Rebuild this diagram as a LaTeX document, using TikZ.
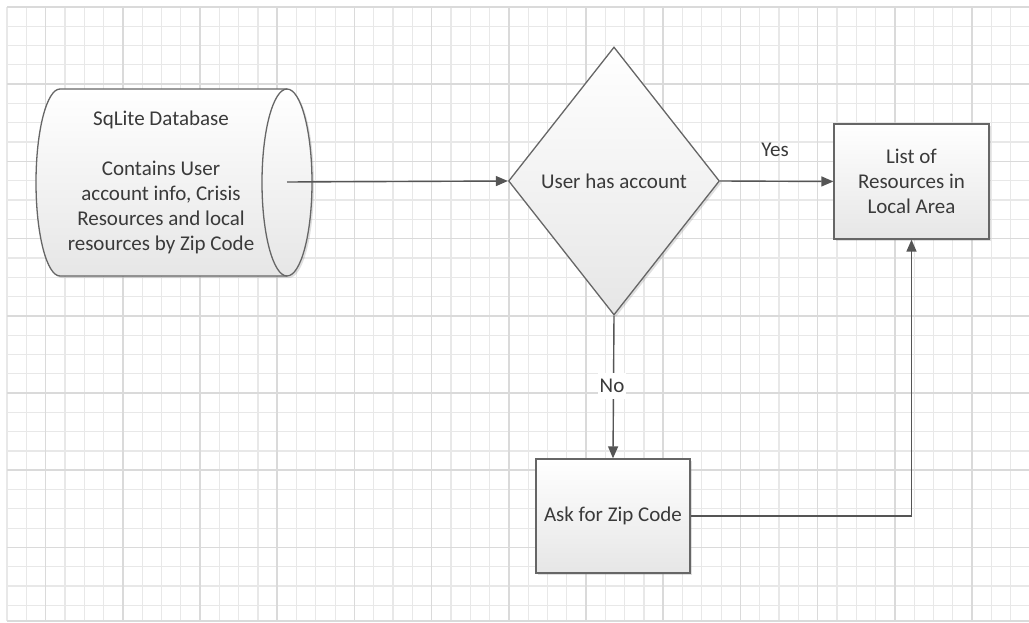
\documentclass[tikz,border=0pt]{standalone}
\usepackage{fontspec}
\setmainfont{Carlito}
\usetikzlibrary{arrows.meta,shapes.geometric,shadows}
\definecolor{gridlight}{HTML}{E8E8E8}
\definecolor{griddark}{HTML}{DADADA}
\definecolor{edge}{HTML}{666666}
\definecolor{conn}{HTML}{555555}
\definecolor{txt}{HTML}{3A3A3A}
\definecolor{fillbot}{HTML}{E6E6E6}
\tikzset{
  shapefill/.style={draw=edge, line width=1.3pt, top color=white, bottom color=fillbot,
    drop shadow={shadow xshift=2pt, shadow yshift=-2pt, opacity=0.25, fill=gray}},
  procbox/.style={shapefill, rectangle, inner sep=0pt, align=center, text=txt},
  decision/.style={shapefill, diamond, inner sep=0pt, text=txt},
  conn/.style={draw=conn, line width=1.4pt, -{Triangle[length=12pt,width=10pt]}},
  lbl/.style={text=txt, inner sep=0pt},
  gridthin/.style={gridlight, line width=1.2pt},
  gridthick/.style={griddark, line width=1.6pt},
}
\begin{document}
\begin{tikzpicture}[x=1pt,y=1pt,font=\fontsize{21pt}{25pt}\selectfont]
\useasboundingbox (0,0) rectangle (1029,-623);
\fill[white] (0,0) rectangle (1029,-623);
% grid
\foreach \i in {0,...,52} {
  \pgfmathsetmacro{\gx}{7+\i*19.3}
  \draw[gridthin] (\gx,-7) -- (\gx,-621);
}
\foreach \j in {0,...,31} {
  \pgfmathsetmacro{\gy}{-7-\j*19.3}
  \draw[gridthin] (7,\gy) -- (1029,\gy);
}
\foreach \i in {2,6,...,50} {
  \pgfmathsetmacro{\gx}{7+\i*19.3}
  \draw[gridthick] (\gx,-7) -- (\gx,-621);
}
\foreach \j in {0,4,...,28} {
  \pgfmathsetmacro{\gy}{-7-\j*19.3}
  \draw[gridthick] (7,\gy) -- (1029,\gy);
}
\draw[gridthick] (7,-621) -- (1029,-621);
% database cylinder
\path[shapefill] (60,-89) -- (287,-89)
  arc[start angle=90, end angle=-90, x radius=25pt, y radius=93.5pt]
  -- (60,-276)
  arc[start angle=270, end angle=90, x radius=24pt, y radius=93.5pt] -- cycle;
\draw[edge, line width=1.3pt] (287,-89)
  arc[start angle=90, end angle=270, x radius=25pt, y radius=93.5pt];
\node[lbl, align=center] (db) at (161,-182)
  {SqLite Database\\[25pt]Contains User\\account info, Crisis\\Resources and local\\resources by Zip Code};
\coordinate (dbout) at (287,-182);
% decision
\node[decision, minimum width=211pt, minimum height=268pt] (dec) at (614,-181) {User has account};
% boxes
\node[procbox, minimum width=155pt, minimum height=115pt] (list) at (911.5,-181.5)
  {List of\\Resources in\\Local Area};
\node[procbox, minimum width=154pt, minimum height=114pt] (ask) at (613,-516) {Ask for Zip Code};
% connectors
\draw[conn] (dbout) -- (dec.west);
\draw[conn] (dec.east) -- (list.west);
\draw[conn] (dec.south) -- (ask.north);
\draw[conn] (ask.east) -| (list.south);
% labels
\node[lbl] (yes) at (775,-150) {Yes};
\node[lbl, fill=white, inner xsep=2pt, inner ysep=6pt] (no) at (612,-386) {No};
\end{tikzpicture}
\end{document}
